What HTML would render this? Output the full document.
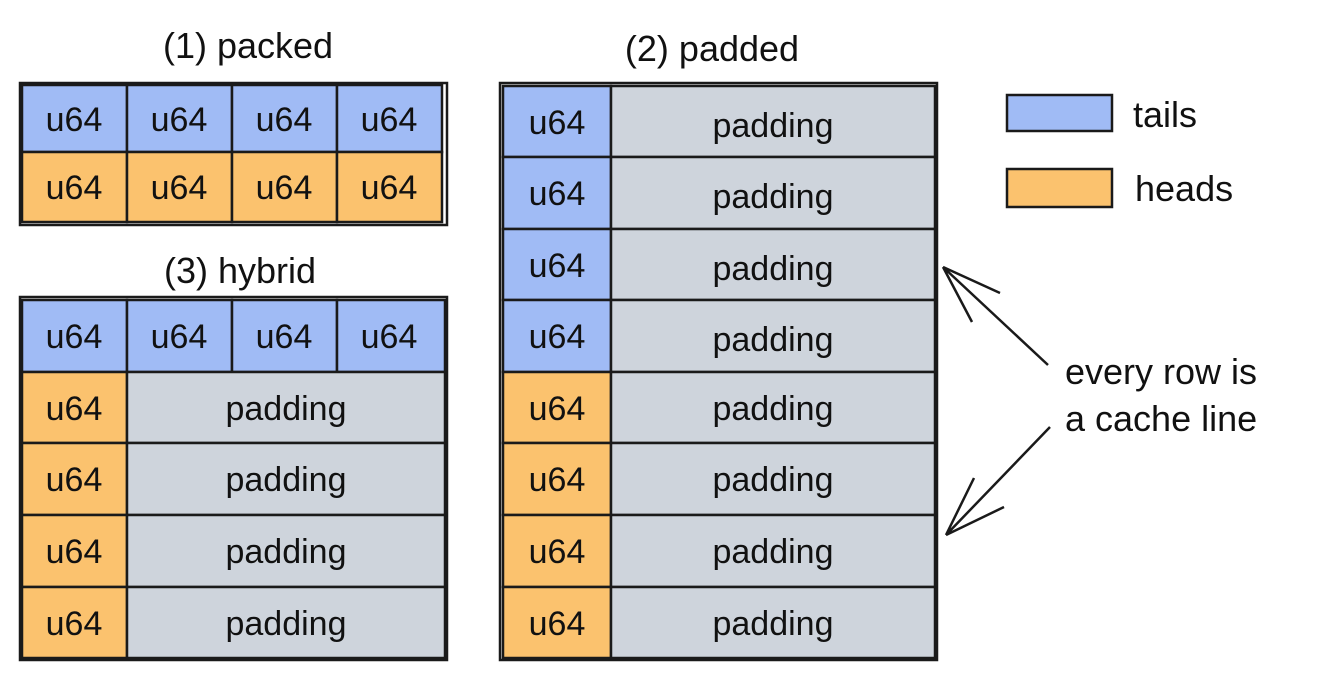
<!DOCTYPE html>
<html><head><meta charset="utf-8"><style>
body{margin:0;background:#fff}
text{font-family:"Liberation Sans",sans-serif;fill:#111}
</style></head><body>
<svg width="1320" height="679" viewBox="0 0 1320 679" xmlns="http://www.w3.org/2000/svg">
<g stroke="#1a1a1a" stroke-width="2.5" fill="none">
<rect x="22" y="85" width="105" height="67" fill="#a0bbf5"/>
<rect x="127" y="85" width="105" height="67" fill="#a0bbf5"/>
<rect x="232" y="85" width="105" height="67" fill="#a0bbf5"/>
<rect x="337" y="85" width="105" height="67" fill="#a0bbf5"/>
<rect x="22" y="152" width="105" height="70" fill="#fbc26e"/>
<rect x="127" y="152" width="105" height="70" fill="#fbc26e"/>
<rect x="232" y="152" width="105" height="70" fill="#fbc26e"/>
<rect x="337" y="152" width="105" height="70" fill="#fbc26e"/>
<rect x="20" y="83" width="427" height="142"/>
<rect x="22" y="300" width="105" height="72" fill="#a0bbf5"/>
<rect x="127" y="300" width="105" height="72" fill="#a0bbf5"/>
<rect x="232" y="300" width="105" height="72" fill="#a0bbf5"/>
<rect x="337" y="300" width="108" height="72" fill="#a0bbf5"/>
<rect x="22" y="372" width="105" height="71" fill="#fbc26e"/><rect x="127" y="372" width="318" height="71" fill="#ced4dc"/>
<rect x="22" y="443" width="105" height="72" fill="#fbc26e"/><rect x="127" y="443" width="318" height="72" fill="#ced4dc"/>
<rect x="22" y="515" width="105" height="72" fill="#fbc26e"/><rect x="127" y="515" width="318" height="72" fill="#ced4dc"/>
<rect x="22" y="587" width="105" height="71" fill="#fbc26e"/><rect x="127" y="587" width="318" height="71" fill="#ced4dc"/>
<rect x="20" y="297" width="427" height="363"/>
<rect x="503" y="86" width="108" height="71" fill="#a0bbf5"/><rect x="611" y="86" width="324" height="71" fill="#ced4dc"/>
<rect x="503" y="157" width="108" height="72" fill="#a0bbf5"/><rect x="611" y="157" width="324" height="72" fill="#ced4dc"/>
<rect x="503" y="229" width="108" height="71" fill="#a0bbf5"/><rect x="611" y="229" width="324" height="71" fill="#ced4dc"/>
<rect x="503" y="300" width="108" height="72" fill="#a0bbf5"/><rect x="611" y="300" width="324" height="72" fill="#ced4dc"/>
<rect x="503" y="372" width="108" height="71" fill="#fbc26e"/><rect x="611" y="372" width="324" height="71" fill="#ced4dc"/>
<rect x="503" y="443" width="108" height="72" fill="#fbc26e"/><rect x="611" y="443" width="324" height="72" fill="#ced4dc"/>
<rect x="503" y="515" width="108" height="72" fill="#fbc26e"/><rect x="611" y="515" width="324" height="72" fill="#ced4dc"/>
<rect x="503" y="587" width="108" height="71" fill="#fbc26e"/><rect x="611" y="587" width="324" height="71" fill="#ced4dc"/>
<rect x="500" y="83" width="437" height="577"/>
<rect x="1007" y="95" width="105" height="36" fill="#a0bbf5"/>
<rect x="1007" y="169" width="105" height="38" fill="#fbc26e"/>
<path d="M1048 365 L943 267 M943 267 L1000 293 M943 267 L972 322"/>
<path d="M1050 427 L946 535 M946 535 L974 478 M946 535 L1004 507"/>
</g>
<g font-size="36" text-anchor="middle">
<text x="248" y="58">(1) packed</text>
<text x="240" y="283">(3) hybrid</text>
<text x="712" y="61">(2) padded</text>
</g>
<g font-size="34" text-anchor="middle">
<text x="74" y="131">u64</text><text x="179" y="131">u64</text><text x="284" y="131">u64</text><text x="389" y="131">u64</text>
<text x="74" y="199">u64</text><text x="179" y="199">u64</text><text x="284" y="199">u64</text><text x="389" y="199">u64</text>
<text x="74" y="348">u64</text><text x="179" y="348">u64</text><text x="284" y="348">u64</text><text x="389" y="348">u64</text>
<text x="74" y="420">u64</text><text x="74" y="491">u64</text><text x="74" y="563">u64</text><text x="74" y="635">u64</text>
<text x="286" y="420">padding</text><text x="286" y="491">padding</text><text x="286" y="563">padding</text><text x="286" y="635">padding</text>
<text x="557" y="134">u64</text><text x="557" y="205">u64</text><text x="557" y="277">u64</text><text x="557" y="348">u64</text>
<text x="557" y="420">u64</text><text x="557" y="491">u64</text><text x="557" y="563">u64</text><text x="557" y="635">u64</text>
<text x="773" y="137">padding</text><text x="773" y="208">padding</text><text x="773" y="280">padding</text><text x="773" y="351">padding</text>
<text x="773" y="420">padding</text><text x="773" y="491">padding</text><text x="773" y="563">padding</text><text x="773" y="635">padding</text>
</g>
<g font-size="36">
<text x="1133" y="127">tails</text>
<text x="1135" y="201">heads</text>
<text x="1065" y="384">every row is</text>
<text x="1065" y="431">a cache line</text>
</g>
</svg>
</body></html>
